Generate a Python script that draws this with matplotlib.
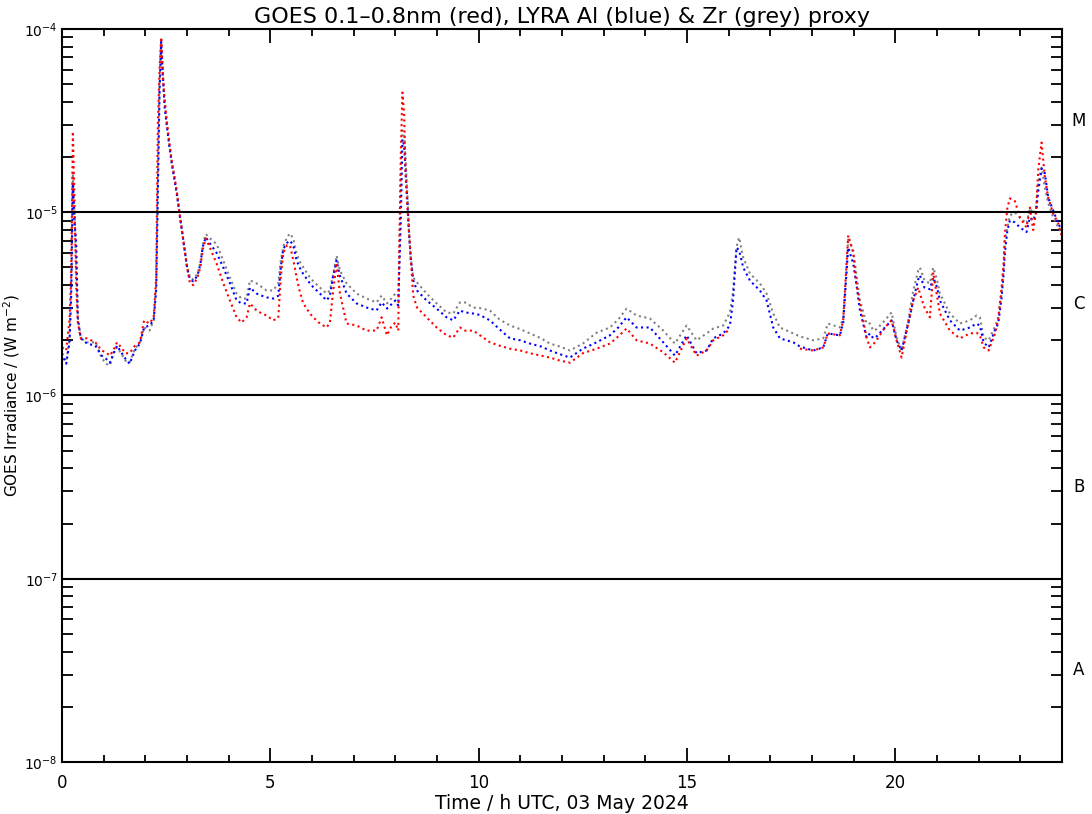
import numpy as np
import matplotlib
matplotlib.use('Agg')
import matplotlib.pyplot as plt
from matplotlib.ticker import LogLocator, MultipleLocator, NullFormatter

# time of day, hours UTC
hours = [0.00, 0.10, 0.18, 0.22, 0.26, 0.30, 0.34, 0.38, 0.45, 0.60, 0.80, 0.95, 1.05, 1.15, 1.25,
         1.32, 1.42, 1.52, 1.62, 1.75, 1.87, 1.97, 2.10, 2.20, 2.26, 2.30, 2.34, 2.38, 2.42, 2.46,
         2.52, 2.58, 2.64, 2.70, 2.76, 2.82, 2.88, 2.94, 3.00, 3.07, 3.15, 3.25, 3.32, 3.38, 3.45,
         3.55, 3.71, 3.87, 4.03, 4.19, 4.31, 4.43, 4.51, 4.67, 4.80, 4.91, 5.07, 5.19, 5.25, 5.31,
         5.40, 5.47, 5.55, 5.63, 5.70, 5.79, 5.95, 6.03, 6.19, 6.35, 6.43, 6.50, 6.59, 6.67, 6.83,
         7.07, 7.31, 7.55, 7.67, 7.80, 7.91, 8.00, 8.07, 8.10, 8.13, 8.17, 8.21, 8.25, 8.29, 8.33,
         8.37, 8.43, 8.52, 8.75, 8.99, 9.23, 9.39, 9.55, 9.67, 9.87, 10.03, 10.27, 10.50, 10.75, 11.00,
         11.23, 11.50, 11.71, 11.95, 12.19, 12.50, 12.83, 13.15, 13.35, 13.55, 13.79, 14.11, 14.43, 14.71, 14.99,
         15.23, 15.47, 15.63, 15.87, 16.03, 16.10, 16.19, 16.25, 16.35, 16.51, 16.75, 16.91, 17.07, 17.23, 17.55,
         17.71, 18.03, 18.27, 18.38, 18.67, 18.75, 18.82, 18.87, 18.99, 19.07, 19.15, 19.31, 19.39, 19.47, 19.55,
         19.75, 19.91, 20.03, 20.15, 20.31, 20.43, 20.55, 20.59, 20.70, 20.83, 20.91, 21.00, 21.07, 21.31, 21.55,
         21.79, 21.95, 22.03, 22.12, 22.24, 22.40, 22.47, 22.55, 22.60, 22.63, 22.69, 22.75, 22.87, 22.99, 23.15,
         23.23, 23.31, 23.38, 23.43, 23.51, 23.59, 23.67, 23.79, 23.91, 24.00]

# irradiance in units of 1e-6 W m^-2
zr_grey = [1.59, 1.55, 2.0, 4.0, 16.3, 9.8, 5.0, 2.67, 2.05, 1.95, 1.95, 1.61, 1.49, 1.46, 1.76,
           1.83, 1.70, 1.55, 1.51, 1.80, 1.95, 2.35, 2.26, 2.57, 4.0, 14.1, 50, 88, 60, 40,
           30, 23, 18.5, 15.5, 12.7, 10.0, 7.9, 6.4, 5.1, 4.4, 4.3, 4.6, 5.3, 6.7, 7.6,
           7.2, 6.7, 5.45, 4.4, 3.6, 3.38, 3.38, 4.25, 4.09, 3.9, 3.74, 3.74, 4.1, 5.45, 6.5,
           7.3, 7.66, 7.2, 5.95, 5.4, 5.0, 4.41, 4.2, 3.88, 3.60, 3.74, 4.5, 5.8, 4.81, 4.09,
           3.60, 3.38, 3.22, 3.51, 3.18, 3.4, 3.6, 3.5, 5.8, 15.3, 28, 26.9, 18.5, 12.3, 7.7,
           5.6, 4.4, 4.14, 3.60, 3.18, 2.84, 2.80, 3.22, 3.22, 3.02, 3.0, 2.91, 2.6, 2.41, 2.3,
           2.18, 2.05, 1.92, 1.85, 1.76, 1.92, 2.20, 2.35, 2.6, 2.98, 2.73, 2.63, 2.26, 1.92, 2.41,
           2.0, 2.18, 2.32, 2.41, 2.84, 3.6, 6.5, 7.28, 5.66, 4.63, 4.09, 3.60, 2.80, 2.35, 2.18,
           2.1, 2.0, 2.05, 2.47, 2.35, 2.67, 4.5, 7.28, 6.18, 4.5, 3.30, 2.47, 2.47, 2.26, 2.3,
           2.57, 2.84, 2.07, 1.76, 2.57, 3.74, 4.8, 4.99, 4.24, 4.09, 4.99, 4.3, 3.60, 2.80, 2.47,
           2.57, 2.73, 2.67, 2.07, 2.0, 2.4, 2.67, 3.60, 4.99, 7.0, 8.26, 9.6, 9.97, 9.36, 8.68,
           10.5, 9.84, 10.5, 14.4, 17.5, 13.6, 11.2, 9.36, 8.26, 7.7]

al_blue = [1.70, 1.49, 1.95, 3.5, 14.4, 8.8, 6.8, 2.6, 2.05, 1.92, 1.87, 1.65, 1.59, 1.51, 1.72,
           1.87, 1.72, 1.59, 1.49, 1.76, 1.92, 2.35, 2.41, 2.57, 3.8, 12.7, 45, 85, 56, 38,
           29, 22.5, 18, 15, 12.3, 9.8, 7.9, 6.3, 5.0, 4.3, 4.2, 4.5, 5.2, 6.5, 7.3,
           6.75, 6.0, 5.0, 4.1, 3.3, 3.18, 3.18, 3.88, 3.60, 3.5, 3.43, 3.38, 3.5, 5.0, 6.3,
           6.8, 7.0, 6.6, 5.45, 5.0, 4.6, 4.09, 3.9, 3.60, 3.30, 3.5, 4.4, 5.45, 4.5, 3.60,
           3.18, 3.02, 2.91, 3.22, 2.98, 3.15, 3.3, 3.1, 5.4, 8.8, 25, 23.1, 16, 11.6, 7.6,
           5.6, 4.25, 3.74, 3.30, 2.98, 2.67, 2.57, 2.91, 2.84, 2.80, 2.75, 2.57, 2.3, 2.05, 2.0,
           1.92, 1.85, 1.76, 1.68, 1.61, 1.80, 1.95, 2.13, 2.35, 2.67, 2.35, 2.35, 1.95, 1.65, 2.13,
           1.70, 1.76, 2.05, 2.18, 2.41, 3.2, 6.42, 6.2, 4.99, 4.24, 3.74, 3.30, 2.35, 2.05, 1.95,
           1.85, 1.76, 1.83, 2.18, 2.13, 2.5, 4.4, 6.42, 5.25, 4.0, 2.91, 2.07, 2.18, 2.05, 2.1,
           2.35, 2.57, 2.0, 1.76, 2.47, 3.30, 4.3, 4.52, 3.88, 3.80, 4.41, 3.9, 3.30, 2.57, 2.26,
           2.35, 2.47, 2.4, 1.95, 1.83, 2.3, 2.47, 3.4, 4.63, 6.0, 7.95, 9.02, 8.8, 8.26, 7.8,
           9.36, 9.0, 10.0, 13.0, 17.3, 16.3, 12.0, 10.2, 8.68, 7.95]

nan = float('nan')
goes_red = [1.83, 1.76, 2.6, 4.5, 27.6, 11.2, 4.0, 2.5, 2.05, 2.05, 1.95, 1.76, 1.72, 1.65, 1.80,
            1.95, 1.83, 1.70, 1.70, 1.87, 1.95, 2.57, 2.47, 2.67, 4.4, 30, 60, 90, 54, 42,
            30.5, 23.7, 18.5, 15.5, 12.7, 9.8, 7.9, 6.3, 5.0, 4.1, 4.0, 4.4, 5.0, 6.3, 7.2,
            6.4, 5.25, 4.1, 3.3, 2.67, 2.50, 2.67, 3.18, 2.91, 2.8, 2.73, 2.57, 2.65, 4.41, 6.0,
            6.6, 6.6, 5.5, 4.4, 3.74, 3.18, 2.80, 2.67, 2.47, 2.35, 2.5, 3.6, 5.3, 3.6, 2.47,
            2.41, 2.26, 2.26, 2.67, 2.13, 2.4, 2.5, 2.26, 7.66, 20, 45, 34.6, 15.3, 10.5, 7.66,
            5.6, 3.5, 3.02, 2.67, 2.35, 2.13, 2.07, 2.35, 2.26, 2.26, 2.13, 1.95, 1.87, 1.80, 1.76,
            1.70, 1.65, 1.61, 1.55, 1.51, 1.70, 1.80, 1.92, 2.1, 2.32, 2.00, 1.92, 1.72, 1.51, 2.05,
            1.65, 1.76, 2.00, 2.13, 2.32, nan, nan, nan, nan, nan, nan, nan, nan, nan, nan,
            1.80, 1.76, 1.83, 2.18, 2.13, 2.6, 4.8, 7.47, 6.0, 4.0, 3.18, 2.07, 1.83, 1.9, 2.0,
            2.35, 2.57, 2.0, 1.61, 2.47, 3.30, 3.88, 3.6, 3.02, 2.67, 4.69, 3.5, 2.80, 2.26, 2.05,
            2.18, 2.2, 2.13, 1.83, 1.76, 2.2, 2.6, 3.88, 5.25, 7.66, 10.6, 11.9, 11.5, 9.36, 8.26,
            10.6, 8.0, 10.2, 17, 24.0, 15.5, 12.0, 9.84, 8.68, 7.3]

flare_classes = ['A', 'B', 'C', 'M']
class_levels = [10**-7.5, 10**-6.5, 10**-5.5, 10**-4.5]
threshold_lines = [1e-7, 1e-6, 1e-5]

fig = plt.figure(figsize=(10.92, 8.14), dpi=100)
ax = fig.add_axes([0.0568, 0.0639, 0.9157, 0.9005])

t = np.array(hours)
for series, col in [(zr_grey, '#808080'), (al_blue, '#0000ff'), (goes_red, '#ff0000')]:
    ax.plot(t, np.array(series) * 1e-6, ls=':', lw=1.5, color=col)

for lev in threshold_lines:
    ax.axhline(lev, color='black', lw=1.5, zorder=3)

ax.set_yscale('log')
ax.set_xlim(0, 24)
ax.set_ylim(1e-8, 1e-4)

ax.xaxis.set_major_locator(MultipleLocator(5))
ax.xaxis.set_minor_locator(MultipleLocator(1))
ax.yaxis.set_major_locator(LogLocator(base=10, numticks=10))
ax.yaxis.set_minor_locator(LogLocator(base=10, subs=np.arange(2, 10), numticks=20))
ax.yaxis.set_minor_formatter(NullFormatter())
ax.tick_params(which='both', direction='in', top=True, right=True, width=1.3, colors='black')
ax.tick_params(axis='x', which='major', length=10, labelsize=12, pad=9)
ax.tick_params(axis='x', which='minor', length=5)
ax.tick_params(axis='y', which='major', length=0, labelsize=10, pad=3)
ax.tick_params(axis='y', which='minor', length=8)
for sp in ax.spines.values():
    sp.set_linewidth(1.5)

for lab, lev in zip(flare_classes, class_levels):
    ax.text(1.017, lev, lab, transform=ax.get_yaxis_transform(), fontsize=12,
            ha='center', va='center')

ax.set_title('GOES 0.1\u20130.8nm (red), LYRA Al (blue) & Zr (grey) proxy', fontsize=16, pad=4)
ax.set_xlabel('Time / h UTC, 03 May 2024', fontsize=13.5, labelpad=1)
ax.set_ylabel('GOES Irradiance / (W m$^{-2}$)', fontsize=11, labelpad=2)

fig.savefig('out.png', dpi=100)
